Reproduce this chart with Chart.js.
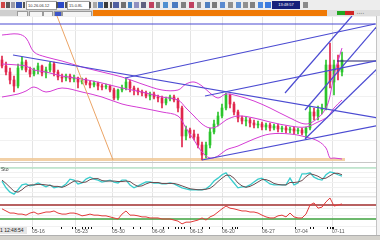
<!DOCTYPE html>
<html>
<head>
<meta charset="utf-8">
<script src="https://cdn.jsdelivr.net/npm/chart.js@4/dist/chart.umd.min.js"></script>
<style>
body{margin:0;width:380px;height:240px;overflow:hidden;background:#fff;font-family:"Liberation Sans",Arial,sans-serif;position:relative}
.abs{position:absolute}
canvas{position:absolute;left:0}
.ic{position:absolute;top:2px;height:6px}
.tab{position:absolute;top:11px;height:4px;background:#f4f4f4;border:1px solid #9a9a9a;border-bottom:none}
</style>
</head>
<body>
<!-- toolbar -->
<div class="abs" style="left:0;top:0;width:380px;height:10px;background:#ededed;border-bottom:1px solid #bdbdbd"></div>
<div class="abs" style="left:26px;top:1px;width:29px;height:7px;background:#fff;border:1px solid #a0a0a0;font-size:4px;line-height:7px;color:#333;overflow:hidden">&nbsp;10.26.06.12</div>
<div class="abs" style="left:67px;top:1px;width:21px;height:7px;background:#fff;border:1px solid #a0a0a0;font-size:4px;line-height:7px;color:#333;overflow:hidden">&nbsp;15.0.8L</div>
<div class="abs" style="left:272px;top:1px;width:28px;height:8px;background:#16207a;font-size:4px;line-height:8px;color:#fff;text-align:center">13:48:57</div>
<div id="icons"></div>
<!-- tab bar -->
<div class="abs" style="left:0;top:10px;width:93px;height:6px;background:#cfcfcf"></div>
<div class="tab" style="left:17px;width:9px"></div>
<div class="tab" style="left:29px;width:12px"></div>
<div class="tab" style="left:43px;width:8px"></div>
<div class="tab" style="left:54px;width:6px;background:#3d55c8"></div>
<div class="tab" style="left:62px;width:28px"></div>
<div class="abs" style="left:93px;top:10px;width:234px;height:6px;background:#f07a06"></div>
<div class="abs" style="left:327px;top:10px;width:53px;height:6px;background:#dedede"></div>
<div class="abs" style="left:337px;top:11px;width:8px;height:4px;background:#22a822"></div>
<div class="abs" style="left:345px;top:11px;width:9px;height:4px;background:#d02626"></div>
<div class="abs" style="left:357px;top:11px;width:20px;height:4px;font-size:3px;color:#555;line-height:4px">▪ ▪ ▪ ▪</div>

<canvas id="main" width="376" height="146" style="top:16px"></canvas>
<canvas id="stoch" width="376" height="35" style="top:162px"></canvas>
<canvas id="rsi" width="376" height="38" style="top:197px"></canvas>

<div class="abs" style="left:0;top:162px;width:376px;height:1px;background:#c8c8c8"></div>
<div class="abs" style="left:376px;top:16px;width:4px;height:219px;background:#f3f3f3;border-left:1px solid #c4c4c4"></div>
<div class="abs" style="left:1px;top:166px;font-size:5px;color:#444">Sto</div>
<div class="abs" style="left:0;top:227px;width:27px;height:7px;background:#e6e6e6;font-size:5px;line-height:7px;color:#222">1 12:48:54</div>
<div class="abs" style="left:0;top:235px;width:380px;height:5px;background:#d4d2cc;border-top:1px solid #b0b0b0"></div>

<script>
// candles (price units, one per bar)
const opens  = [102,96,90,82,76,94,100,92,88,92, 96,89,92,98,90,85,84,86,83,84, 80,82,79,77,79,76,75,76,72,64, 72,74,80,74,72,70,69,66,68,65, 64,59,63,65,62,54,26,32,28,25, 17,7,17,30,38,46,54,67,58,50, 44,41,42,39,37,38,35,37,34,36, 33,34,32,33,31,32,29,34,50,46, 52,54,97,80,97,90];
const closes = [96,90,82,76,94,100,92,88,92,96, 89,92,98,90,85,84,86,83,84,80, 82,79,77,79,76,75,76,72,64,72, 74,80,74,72,70,69,66,68,65,64, 59,63,65,62,54,26,32,28,25,17, 7,17,30,38,46,54,67,58,50,44, 41,42,39,37,38,35,37,34,36,33, 34,32,33,31,32,29,34,50,46,52, 54,97,80,97,90,102];
const highs  = [106,100,94,86,98,105,102,95,94,99, 97,95,100,100,92,88,88,88,87,85, 84,84,81,81,80,78,78,77,74,73, 77,84,82,76,74,72,71,70,70,67, 66,65,67,67,64,56,36,34,32,28, 20,20,34,42,50,58,69,68,60,52, 46,45,44,42,41,40,39,39,38,38, 36,36,35,35,34,34,35,56,54,56, 58,102,119,102,107,110];
const lows   = [94,87,78,70,74,92,90,85,86,88, 86,84,90,86,82,80,81,80,80,74, 78,77,74,75,72,72,73,70,62,62, 70,72,70,67,67,66,64,62,63,60, 54,57,61,60,50,15,22,24,22,14, 2,4,14,28,36,44,52,54,47,40, 38,36,35,34,34,32,32,31,32,30, 30,29,29,28,28,27,24,32,42,42, 48,52,74,67,82,86];

// bollinger bands (sampled)
const bbIdx   = [0,4,6,8,11,15,20,25,30,35,40,44,46,48,50,52,54,56,59,63,67,72,76,79,81,82,83,85];
const bbUpper = [127,128,124,110,105,101,95,90,85,78,72,72,78,80,76,69,64,68,66,61,54,44,38,44,54,66,87,114];
const bbMid   = [98,97,96,92,90,86,83,79,74,70,65,62,54,46,38,34,36,42,46,44,40,36,35,40,44,48,54,62];
const bbLower = [65,68,71,75,70,74,70,65,58,54,50,46,34,22,10,4,6,12,16,23,28,28,25,21,14,4,4,3];

// drawn trend lines [bar, price]
const trendFrom = [[-0.5,138],[2.75,107],[30.75,84],[50.75,66],[50,2],[70.75,69],[75.75,52],[75.75,23]];
const trendTo   = [[93.5,138],[94,44],[93.25,138],[94.5,102],[94.5,37],[87.5,146],[94,137],[94.5,96]];
const pivotLevel = 101, pivotFrom = 83.75;
const fanFrom = [13.75,146], fanTo = [27.75,2];
const supportLevel = 2.5, supportEnd = 85.75;

// stochastic
const stochK = [53,39,30,26,35,45,47,43,45,49, 45,41,45,39,41,41,47,57,55,47, 49,57,61,57,55,51,53,55,51,49, 55,55,45,39,43,47,51,51,49,49, 47,47,49,47,43,39,37,35,35,35, 35,37,43,53,59,66,70,59,49,39, 41,41,45,51,57,59,53,47,45,45, 45,45,59,45,49,68,68,70,61,57, 55,66,72,70,66,63];
const stochD = [55,48,40,32,30,35,42,45,45,46, 46,45,44,42,42,40,43,48,53,53, 50,51,56,58,58,54,53,53,53,52, 52,53,52,46,42,43,47,50,50,50, 48,48,48,48,46,43,40,37,36,35, 35,36,38,44,52,59,65,65,59,49, 43,40,42,46,51,56,56,53,48,46, 45,45,50,50,51,54,62,68,66,63, 58,59,64,69,69,66];
const stochLevels = [80, 20];

// rsi
const rsi = [59,53,47,47,44,44,41,47,50,44, 47,50,50,53,47,44,44,47,47,44, 39,41,44,41,41,39,39,36,33,30, 44,53,41,41,39,36,36,33,33,33, 30,30,30,27,24,16,21,21,24,27, 33,27,36,41,50,59,67,61,59,56, 53,53,50,50,47,41,36,33,33,39, 41,36,47,36,33,33,44,70,76,61, 64,79,90,67,70,73];
const rsiLevels = [70, 30];

// time axis
const dateIdx    = [7.5,18.25,27.5,37.5,47,55,65,73.25,82.5];
const dateLabels = ['05-16','05-23','05-30','06-06','06-13','06-20','06-27','07-04','07-11'];
const eventIdx   = [15,17.5,20,20.75,21.5,22.25,29.75,32.75,34.5,40.25,41.5,43.25,44,44.75,45.5,50,52,57.5,58.25,58.75,77,77.75,81.25,82,82.75];

const X_MIN = -0.5, X_MAX = 93.5;
const UP = '#2cc42c', DOWN = '#e0264c', BAND = '#d43cd4', TREND = '#4b4bd2';

const icons = [[1,4,'#d04848'],[6,4,'#5a5a5a'],[11,4,'#9a9aa8'],[16,6,'#3050b0'],[23,2,'#555'],[56,2,'#555'],[58,6,'#2a48c8'],[65,2,'#555'],[89,2,'#555'],[93,4,'#a8a8a8'],[98,5,'#4070c0'],[104,4,'#3a3a3a'],[110,2,'#555'],[113,6,'#5060a0'],[121,5,'#707070'],[128,4,'#4080c0'],[134,5,'#9090c0'],[141,5,'#606080'],[149,5,'#c04060'],[156,4,'#808080'],[163,5,'#5090d0'],[172,6,'#4a7ac0'],[181,5,'#808080'],[189,5,'#c04060'],[197,4,'#909090'],[205,5,'#5080c0'],[212,5,'#7a7a7a'],[220,5,'#5a8ad0'],[228,5,'#909090'],[236,5,'#6090d0'],[243,5,'#909090'],[250,5,'#808080'],[258,5,'#4a88e0'],[265,6,'#3a7ae0'],[303,5,'#8a8a8a']];
const iconBox = document.getElementById('icons');
icons.forEach(([x,w,c])=>{
  const s = document.createElement('div');
  s.className = 'ic';
  s.style.left = x+'px'; s.style.width = w+'px'; s.style.background = c;
  iconBox.appendChild(s);
});

const base = {
  responsive:false, animation:false, events:[], devicePixelRatio:1,
  layout:{padding:0},
  plugins:{legend:{display:false}, tooltip:{enabled:false}}
};

function gridX(){
  return {
    type:'linear', min:X_MIN, max:X_MAX, offset:false,
    afterBuildTicks: s => { s.ticks = dateIdx.map(v=>({value:v})); },
    ticks:{display:false},
    grid:{color:'#e4e4e4', drawTicks:false, offset:false},
    border:{display:false},
    afterFit: s => { s.height = 0; }
  };
}
function gridY(min, max, step, color){
  return {
    min, max,
    ticks:{display:false, stepSize:step},
    grid:{color, drawTicks:false},
    border:{display:false},
    afterFit: s => { s.width = 0; }
  };
}
function seg(a, b, color, width, order){
  return {type:'line', data:[{x:a[0],y:a[1]},{x:b[0],y:b[1]}], borderColor:color, borderWidth:width, pointRadius:0, order};
}
function band(values, order){
  return {type:'line', data:bbIdx.map((x,i)=>({x, y:values[i]})), borderColor:BAND, borderWidth:1, pointRadius:0, tension:0.35, order};
}

const candleColors = opens.map((o,i)=> closes[i] >= o ? UP : DOWN);

new Chart(document.getElementById('main'), {
  type:'line',
  data:{datasets:[
    {type:'bar', data:opens.map((o,i)=>({x:i, y:[lows[i], highs[i]]})), backgroundColor:candleColors, barThickness:1, grouped:false, order:5},
    {type:'bar', data:opens.map((o,i)=>({x:i, y:[o, closes[i]]})), backgroundColor:candleColors, barThickness:2, grouped:false, minBarLength:1, order:4},
    band(bbUpper, 3), band(bbMid, 3), band(bbLower, 3),
    seg([X_MIN, supportLevel], [supportEnd, supportLevel], 'rgba(240,200,150,0.85)', 3, 6),
    seg(fanFrom, fanTo, '#eba466', 1, 2),
    ...trendFrom.map((a,i)=> seg(a, trendTo[i], TREND, 1.2, 1)),
    seg([pivotFrom, pivotLevel], [X_MAX+1, pivotLevel], '#1e1e66', 1.2, 1)
  ]},
  options:{...base, scales:{x:gridX(), y:gridY(0, 146, 22, '#f1f1f1')}}
});

new Chart(document.getElementById('stoch'), {
  type:'line',
  data:{datasets:[
    seg([X_MIN, stochLevels[0]], [X_MAX, stochLevels[0]], '#94d6ae', 1, 4),
    seg([X_MIN, stochLevels[1]], [X_MAX, stochLevels[1]], '#c8c8c8', 1, 4),
    {data:stochK.map((y,x)=>({x,y})), borderColor:'#38cccc', borderWidth:1.3, pointRadius:0, order:2},
    {data:stochD.map((y,x)=>({x,y})), borderColor:'#6e4c50', borderWidth:1, pointRadius:0, order:1}
  ]},
  options:{...base, scales:{x:gridX(), y:gridY(20, 92.4, 10, '#f1f1f1')}}
});

const allTicks = dateIdx.concat(eventIdx).sort((a,b)=>a-b);
new Chart(document.getElementById('rsi'), {
  type:'line',
  data:{datasets:[
    seg([X_MIN, rsiLevels[0]], [X_MAX, rsiLevels[0]], '#a02c2c', 1.5, 4),
    seg([X_MIN, rsiLevels[1]], [X_MAX, rsiLevels[1]], '#3ea23e', 1.3, 4),
    {data:rsi.map((y,x)=>({x,y})), borderColor:'#e23a3a', borderWidth:1, pointRadius:0, order:1}
  ]},
  options:{...base, scales:{
    x:{
      type:'linear', min:X_MIN, max:X_MAX, offset:false, position:'bottom',
      afterBuildTicks: s => { s.ticks = allTicks.map(v=>({value:v})); },
      ticks:{
        autoSkip:false, maxRotation:0, padding:0, align:'start', color:'#555',
        font:{size:5, family:'"Liberation Sans", Arial'},
        callback: v => { const k = dateIdx.indexOf(v); return k >= 0 ? dateLabels[k] : ''; }
      },
      grid:{
        color: c => (c.tick && dateIdx.includes(c.tick.value)) ? '#e4e4e4' : 'rgba(0,0,0,0)',
        tickColor:'#111', tickLength:3, offset:false
      },
      border:{display:false},
      afterFit: s => { s.height = 9; }
    },
    y:gridY(10, 92.9, 20, '#f1f1f1')
  }}
});
</script>
</body>
</html>
